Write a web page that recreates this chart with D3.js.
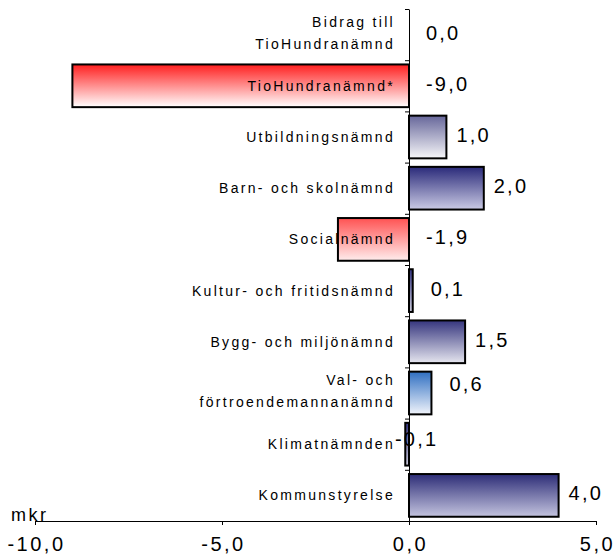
<!DOCTYPE html>
<html>
<head>
<meta charset="utf-8">
<script src="https://cdn.jsdelivr.net/npm/d3@7/dist/d3.min.js"></script>
<style>
  html, body { margin: 0; padding: 0; background: #fff; }
  svg { display: block; }
  text { font-family: "Liberation Sans", Arial, sans-serif; fill: #000; }
</style>
</head>
<body>
<svg id="chart" width="615" height="559"></svg>
<script>
// ---- data ----
const categories = [
  "Bidrag till\nTioHundranämnd",
  "TioHundranämnd*",
  "Utbildningsnämnd",
  "Barn- och skolnämnd",
  "Socialnämnd",
  "Kultur- och fritidsnämnd",
  "Bygg- och miljönämnd",
  "Val- och\nförtroendemannanämnd",
  "Klimatnämnden",
  "Kommunstyrelse"
];
const values = [0.0, -9.0, 1.0, 2.0, -1.9, 0.1, 1.5, 0.6, -0.1, 4.0];
const xTickValues = [-10, -5, 0, 5];
const unitLabel = "mkr";

// ---- styles (gradient top / bottom colours per bar) ----
const gradTop    = ["#333380", "#ff1f1f", "#66669a", "#2a2a7a", "#ff5252", "#333380", "#35357e", "#2f6fc2", "#333380", "#2d2d77"];
const gradBottom = ["#ccccdd", "#ffffff", "#f7f7f9", "#cacae4", "#ffeded", "#ccccdd", "#e6e6ef", "#f1f4fb", "#ccccdd", "#c4c4df"];
// per-bar nudges of value labels [dx, dy]
const labelNudge = { 5: [8, 0], 7: [8, -7], 8: [-31, -3] };

const svg = d3.select("#chart");
const mLeft = 35, mRight = 596, mTop = 9, mBottom = 521;

const x = d3.scaleLinear().domain([-10, 5]).range([mLeft, mRight]);
const y = d3.scaleBand().domain(categories).range([mTop, mBottom])
  .paddingInner(0.166).paddingOuter(0.083);
const yIdx = d3.scaleLinear().domain([0, categories.length]).range([mTop, mBottom]);

const fmt = v => d3.format(".1f")(v).replace("\u2212", "-").replace(".", ",");

// gradients
const defs = svg.append("defs");
categories.forEach((c, i) => {
  const g = defs.append("linearGradient").attr("id", "g" + i)
    .attr("x1", 0).attr("y1", 0).attr("x2", 0).attr("y2", 1);
  g.append("stop").attr("offset", "0%").attr("stop-color", gradTop[i]);
  g.append("stop").attr("offset", "100%").attr("stop-color", gradBottom[i]);
});

// x axis
const xAxis = svg.append("g").attr("transform", `translate(0,${mBottom})`)
  .call(d3.axisBottom(x).tickValues(xTickValues).tickSize(4).tickSizeOuter(0).tickFormat(fmt));
xAxis.select(".domain").attr("stroke", "#000").attr("stroke-width", 1);
xAxis.selectAll(".tick line").attr("stroke", "#000");
xAxis.selectAll(".tick text")
  .attr("y", 20).attr("dy", "0.5em").attr("dx", "1px")
  .style("font-size", "20px").style("letter-spacing", "2.5px")
  .style("font-family", "'Liberation Sans', Arial, sans-serif").attr("fill", "#000");

// y axis (at zero) with ticks between categories
const yAxis = svg.append("g").attr("transform", `translate(${x(0)},0)`)
  .call(d3.axisLeft(yIdx).ticks(categories.length).tickSize(4).tickSizeOuter(0).tickFormat(""));
yAxis.select(".domain").attr("stroke", "#000").attr("stroke-width", 1);
yAxis.selectAll(".tick line").attr("stroke", "#000");

// bars
svg.append("g").selectAll("rect").data(values).join("rect")
  .attr("x", d => x(Math.min(0, d)))
  .attr("y", (d, i) => y(categories[i]))
  .attr("width", d => Math.abs(x(d) - x(0)))
  .attr("height", y.bandwidth())
  .attr("fill", (d, i) => `url(#g${i})`)
  .attr("stroke", "#000").attr("stroke-width", 2)
  .attr("display", d => d === 0 ? "none" : null);

// category labels
const catG = svg.append("g");
categories.forEach((c, i) => {
  const lines = c.split("\n");
  const cy = y(c) + y.bandwidth() / 2;
  const lh = 22;
  const t = catG.append("text")
    .attr("x", x(0) - 14)
    .attr("text-anchor", "end")
    .style("font-size", "14px").style("letter-spacing", "2.3px");
  lines.forEach((ln, k) => {
    t.append("tspan").attr("x", x(0) - 14)
      .attr("y", cy + (k - (lines.length - 1) / 2) * lh - (lines.length > 1 ? 2 : 0))
      .attr("dy", "0.35em").text(ln);
  });
});

// value labels
svg.append("g").selectAll("text").data(values).join("text")
  .attr("x", (d, i) => (d > 0 ? x(d) + 10 : x(0) + 17) + (labelNudge[i] ? labelNudge[i][0] : 0))
  .attr("y", (d, i) => y(categories[i]) + y.bandwidth() / 2 - 2 + (labelNudge[i] ? labelNudge[i][1] : 0))
  .attr("dy", "0.35em")
  .style("font-size", "20px").style("letter-spacing", "2.2px")
  .text(d => fmt(d));

// unit label
svg.append("text").attr("x", 11).attr("y", mBottom)
  .style("font-size", "18px").style("letter-spacing", "2.5px")
  .text(unitLabel);
</script>
</body>
</html>
